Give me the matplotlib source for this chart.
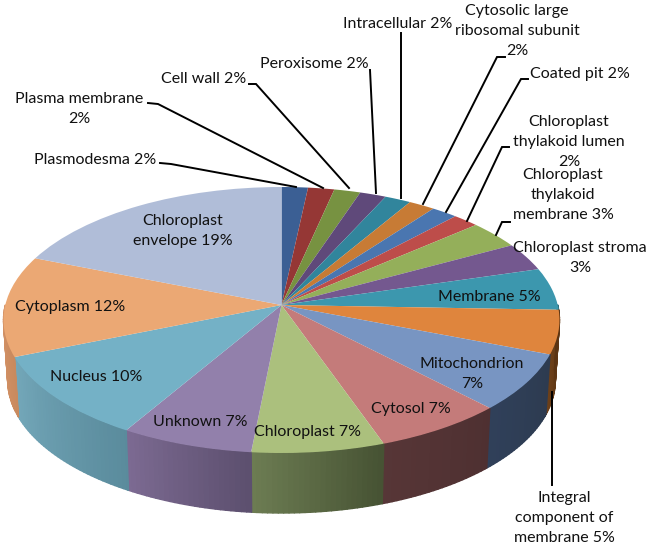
import numpy as np
import matplotlib
matplotlib.use("Agg")
import matplotlib.pyplot as plt
from matplotlib.collections import PolyCollection
from matplotlib.colors import to_rgb
from matplotlib.transforms import Transform

plt.rcParams['font.family'] = ['Lato', 'DejaVu Sans']

# ---- data -------------------------------------------------------------
categories = ["Plasmodesma", "Plasma membrane", "Cell wall", "Peroxisome", "Intracellular",
              "Cytosolic large ribosomal subunit", "Coated pit", "Chloroplast thylakoid lumen",
              "Chloroplast thylakoid membrane", "Chloroplast stroma", "Membrane",
              "Integral component of membrane", "Mitochondrion", "Cytosol", "Chloroplast",
              "Unknown", "Nucleus", "Cytoplasm", "Chloroplast envelope"]
values = [1.7, 1.7, 1.7, 1.7, 1.7, 1.7, 1.7, 1.7, 3.4, 3.4, 5.1, 5.3, 6.9, 6.8, 6.9, 6.9, 10.3, 12.2, 18.9]
top_colors = ["#3b5f94", "#953735", "#779241", "#5f497a", "#31859c", "#c77b35", "#4a76b0", "#bd4d4a",
              "#94af5a", "#74588f", "#3c97ae", "#df853d", "#7895c2", "#c47b7a", "#abc07d", "#9280ab",
              "#74b1c6", "#eba874", "#b0bdd8"]
side_left = {10: "#2a6a7a", 11: "#6e4119", 12: "#30405a", 13: "#573637", 14: "#6d7d53",
             15: "#7d6b93", 16: "#74a8ba", 17: "#d9966a", 18: "#8a94aa"}
side_right = {10: "#2a6a7a", 11: "#5a3413", 12: "#2d3b50", 13: "#4e3031", 14: "#465233",
              15: "#5c4f6e", 16: "#5a8b9c", 17: "#c98a5e", 18: "#8a94aa"}

labels = ["Plasmodesma 2%", "Plasma membrane\n2%", "Cell wall 2%", "Peroxisome 2%", "Intracellular 2%",
          "Cytosolic large\nribosomal subunit\n2%", "Coated pit 2%", "Chloroplast\nthylakoid lumen\n2%",
          "Chloroplast\nthylakoid\nmembrane 3%", "Chloroplast stroma\n3%", "Membrane 5%",
          "Integral\ncomponent of\nmembrane 5%", "Mitochondrion\n7%", "Cytosol 7%", "Chloroplast 7%",
          "Unknown 7%", "Nucleus 10%", "Cytoplasm 12%", "Chloroplast\nenvelope 19%"]

# ---- layout (pixels) ---------------------------------------------------
label_pos = [(95, 160), (79, 109), (204, 79), (314, 64), (398, 24), (517, 31), (580, 74), (569, 142),
             (563, 195), (580, 258), (489, 297), (564, 518), (472, 374), (411, 409), (307, 432),
             (200, 422), (96, 377), (70, 307), (183, 231)]
leaders = [[(160, 163), (171, 164), (296, 187)],
           [(148, 103), (158, 104), (323, 188)],
           [(249, 84), (256, 84), (349, 188)],
           [(370, 70), (376, 193)],
           [(401, 33), (401, 198)],
           [(505, 57), (497, 57), (423, 204)],
           [(528, 79), (521, 79), (446, 212)],
           [(509, 147), (502, 147), (467, 221)],
           [(510, 222), (502, 222), (496, 235)],
           [(552, 392), (552, 485)]]
CX, CY = 281.5, 305.0
A, C, D = 131.3, -0.1128, 276.2
DEPTH, SHRINK = 60.0, 0.985


def project(xy):
    xy = np.asarray(xy, dtype=float)
    u, v = xy[..., 0], -xy[..., 1]
    w = 1 + C * v
    return np.stack([CX + D * u / w, CY + A * v / w], axis=-1)


class Perspective(Transform):
    input_dims = output_dims = 2
    is_affine = False

    def transform_non_affine(self, values):
        return project(values)


fig = plt.figure(figsize=(6.5, 5.48), dpi=100, facecolor="white")
ax = fig.add_axes([0, 0, 1, 1])
wedges, _ = ax.pie(values, colors=top_colors, startangle=90, counterclock=False, radius=1,
                   wedgeprops=dict(linewidth=0))
ax.set_aspect("auto")
ax.set_xlim(0, 650)
ax.set_ylim(548, 0)
ax.axis("off")

# side wall, built from the pie's own wedge angles
polys, cols = [], []
for i, w in enumerate(wedges):
    lo, hi = w.theta1 % 360, w.theta2 % 360
    if hi <= lo:
        hi += 360
    for shift in (0, 360):
        a, b = max(lo + shift, 180), min(hi + shift, 360)
        if b <= a or i not in side_left:
            continue
        th = np.radians(np.arange(a, b + 1.0, 1.0).clip(a, b))
        top = project(np.column_stack([np.cos(th), np.sin(th)]))
        bot = top.copy()
        bot[:, 0] = CX + (top[:, 0] - CX) * SHRINK
        bot[:, 1] = top[:, 1] + DEPTH
        c0, c1 = np.array(to_rgb(side_left[i])), np.array(to_rgb(side_right[i]))
        for k in range(len(th) - 1):
            polys.append([top[k], top[k + 1], bot[k + 1], bot[k]])
            cols.append(c0 + (c1 - c0) * (k + 0.5) / (len(th) - 1))
ax.add_collection(PolyCollection(polys, facecolors=cols, edgecolors=cols, linewidths=1.0,
                                 joinstyle="round", zorder=1))

persp = Perspective()
for w in wedges:
    w.set_transform(persp + ax.transData)
    w.set_clip_on(False)
    w.set_zorder(2)

for pts in leaders:
    xs, ys = zip(*pts)
    ax.plot(xs, ys, color="black", lw=1.4, zorder=3, solid_joinstyle="miter")

for text, (x, y) in zip(labels, label_pos):
    ax.text(x, y, text, ha="center", va="center", fontsize=11.5, color="#111111",
            linespacing=1.52, zorder=4)

fig.savefig("out.png", dpi=100, facecolor="white")
